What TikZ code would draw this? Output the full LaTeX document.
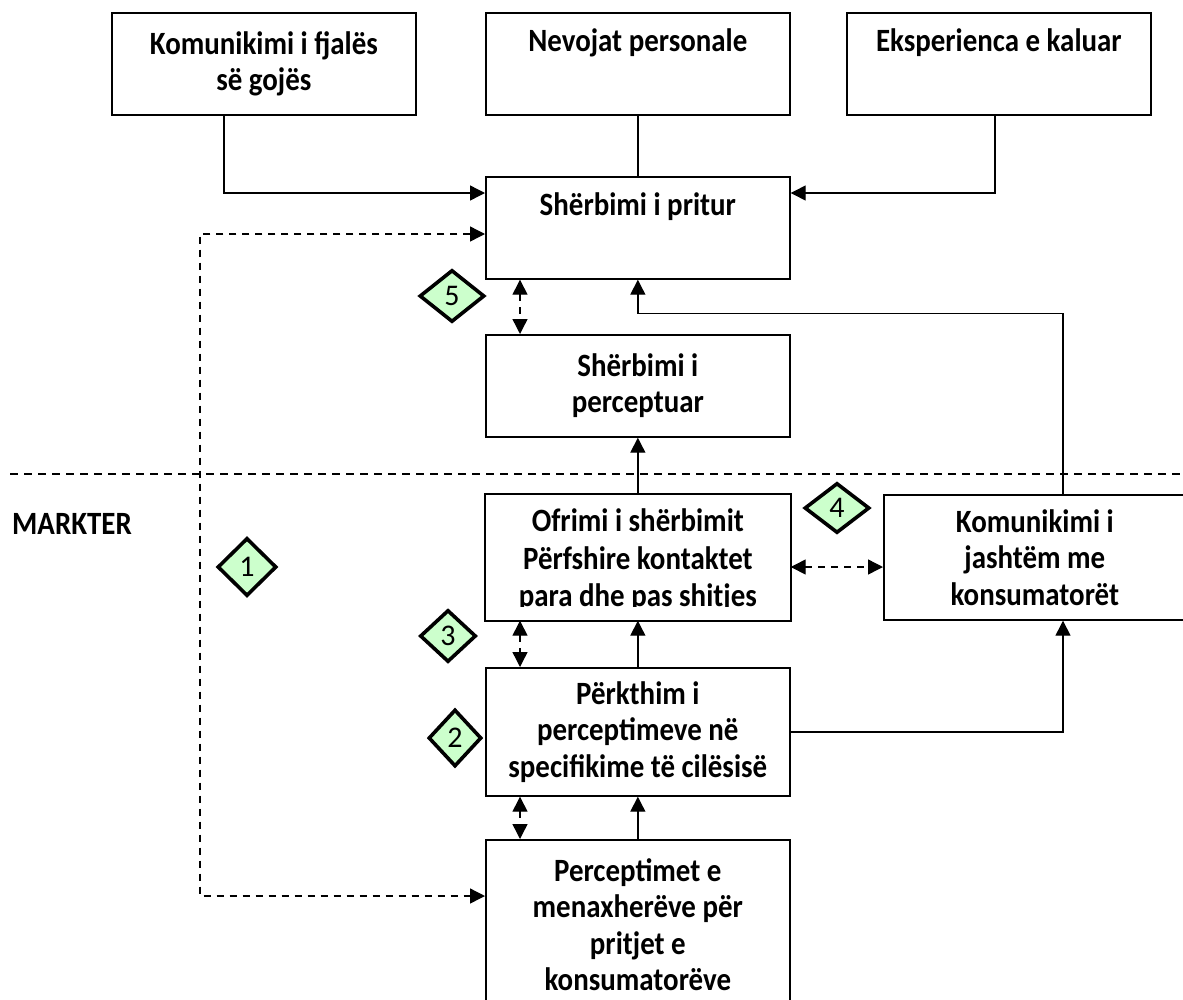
\documentclass[tikz,border=0pt]{standalone}
\usepackage{fontspec}
\setmainfont{Carlito}[FakeStretch=0.89]
\newfontfamily\digitfont{Carlito}
\usetikzlibrary{shapes.geometric,arrows.meta,calc}
\definecolor{dgreen}{RGB}{204,255,204}
\begin{document}
\begin{tikzpicture}[x=1pt,y=-1pt,
  box/.style={draw, line width=1.7pt, rectangle, inner sep=0pt, align=center,
    font=\bfseries\fontsize{32.5}{36.5}\selectfont, anchor=north west},
  boxline/.style={line width=1.7pt},
  dia/.style={diamond, draw, line width=3.6pt, fill=dgreen, inner sep=0pt,
    font=\digitfont\fontsize{30}{32}\selectfont},
  ln/.style={line width=1.4pt},
  arr/.style={line width=1.4pt, -{Triangle[length=15pt,width=15pt]}},
  darr/.style={line width=1.4pt, dash pattern=on 7pt off 6pt,
    {Triangle[length=15pt,width=15pt]}-{Triangle[length=15pt,width=15pt]}},
  sepline/.style={line width=1.4pt, dash pattern=on 8pt off 6pt}
]
\useasboundingbox (0,0) rectangle (1183,999);

% boxes
\node[box, minimum width=304pt, minimum height=102pt] (fjal) at (111,12) {Komunikimi i fjalës\\së gojës};
\node[box, minimum width=304pt, minimum height=102pt] (nev) at (485,12) {Nevojat personale\\\strut};
\node[box, minimum width=304pt, minimum height=102pt] (eksp) at (846,12) {Eksperienca e kaluar\\\strut};
\node[box, minimum width=304pt, minimum height=102pt] (prit) at (485,176) {Shërbimi i pritur\\\strut};
\node[box, minimum width=304pt, minimum height=102pt] (perc) at (485,334) {Shërbimi i\\perceptuar};
\begin{scope}
  \clip (485,494) rectangle (789,606);
  \node[box, draw=none, minimum width=304pt, minimum height=125pt,
    font=\bfseries\fontsize{32.5}{37.5}\selectfont] (ofr) at (485,497) {Ofrimi i shërbimit\\Përfshire kontaktet\\para dhe pas shitjes};
\end{scope}
\draw[boxline] ([yshift=3pt]ofr.north west) rectangle ([yshift=3pt]ofr.south east);
\node[box, minimum width=302pt, minimum height=125pt] (kj) at (883,494) {Komunikimi i\\jashtëm me\\konsumatorët};
\node[box, minimum width=304pt, minimum height=128pt] (perk) at (485,667) {Përkthim i\\perceptimeve në\\specifikime të cilësisë};
\node[box, minimum width=304pt, minimum height=170pt] (pm) at (485,839) {Perceptimet e\\menaxherëve për\\pritjet e\\konsumatorëve};

% label
\node[font=\bfseries\fontsize{32.5}{36.5}\selectfont, inner sep=0pt, anchor=west] (mk) at (12,524) {MARKTER};

% separator
\draw[sepline] (10,474) -- (1183,474);

% diamonds
\node[dia, minimum width=65pt, minimum height=52pt] (d5) at (452,296) {5};
\node[dia, minimum width=65pt, minimum height=50pt] (d4) at (837,508) {4};
\node[dia, minimum width=56pt, minimum height=52pt] (d3) at (448,636) {3};
\node[dia, minimum width=53pt, minimum height=57pt] (d2) at (455,738) {2};
\node[dia, minimum width=59pt, minimum height=58pt] (d1) at (247,567) {1};

% connectors
\draw[arr] ($(fjal.south west)+(113,0)$) |- ($(prit.north west)+(0,17)$);
\draw[ln] (nev.south) -- (prit.north);
\draw[arr] ($(eksp.south west)+(149,0)$) |- ($(prit.north east)+(0,17)$);
\draw[darr] ($(prit.south west)+(35,0)$) -- ($(perc.north west)+(35,0)$);
\draw[arr] ($(kj.north west)+(180,0)$) |- ($(prit.south)+(0,34)$) -- (prit.south);
\draw[arr] ([yshift=3pt]ofr.north) -- (perc.south);
\draw[darr] ($(ofr.north east)+(0,70)$) -- ($(kj.north west)+(0,73)$);
\draw[darr] ($(ofr.south west)+(35,-3)$) -- ($(perk.north west)+(35,0)$);
\draw[arr] (perk.north) -- ([yshift=3pt]ofr.south);
\draw[arr] (perk.east) -| ($(kj.south west)+(180,0)$);
\draw[darr] ($(perk.south west)+(35,0)$) -- ($(pm.north west)+(35,0)$);
\draw[arr] (pm.north) -- (perk.south);
\coordinate (lc) at (200,500);
\draw[darr] ($(prit.north west)+(0,58)$) -| (lc) |- ($(pm.north west)+(0,57)$);
\end{tikzpicture}
\end{document}
